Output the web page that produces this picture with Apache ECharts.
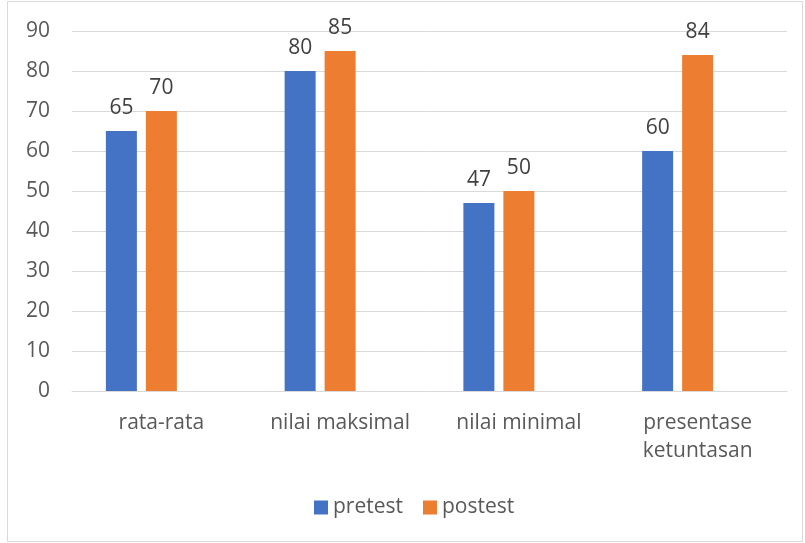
<!DOCTYPE html>
<html>
<head>
<meta charset="utf-8">
<script src="https://cdn.jsdelivr.net/npm/echarts@6/dist/echarts.min.js"></script>
<style>
  html, body { margin: 0; padding: 0; background: #fff; }
  #chart { width: 805px; height: 543px; }
</style>
</head>
<body>
<div id="chart"></div>
<script>
var categories = ["rata-rata", "nilai maksimal", "nilai minimal", "presentase\nketuntasan"];
var pretest = [65, 80, 47, 60];
var postest = [70, 85, 50, 84];
var yTicks = { min: 0, max: 90, interval: 10 };

var fontFamily = "'Open Sans', 'Noto Sans', sans-serif";

var chart = echarts.init(document.getElementById("chart"));
chart.setOption({
  animation: false,
  backgroundColor: "#fff",
  graphic: [
    {
      type: "rect",
      shape: { x: 7.5, y: 1.5, width: 795, height: 540 },
      style: { fill: "none", stroke: "#d9d9d9", lineWidth: 1 },
      silent: true
    }
  ],
  grid: { left: 72, right: 18, top: 31, bottom: 152 },
  legend: {
    data: ["pretest", "postest"],
    top: 492,
    left: 309,
    icon: "rect",
    itemWidth: 14,
    itemHeight: 14,
    itemGap: 20,
    textStyle: { fontFamily: fontFamily, fontSize: 21, color: "#595959" }
  },
  xAxis: {
    type: "category",
    data: categories,
    axisLine: { lineStyle: { color: "#d9d9d9", width: 1 } },
    axisTick: { show: false },
    axisLabel: {
      interval: 0,
      fontFamily: fontFamily,
      fontSize: 21,
      color: "#595959",
      margin: 18,
      lineHeight: 28
    }
  },
  yAxis: {
    type: "value",
    min: yTicks.min,
    max: yTicks.max,
    interval: yTicks.interval,
    axisLine: { show: false },
    axisTick: { show: false },
    splitLine: { lineStyle: { color: "#d9d9d9", width: 1 } },
    axisLabel: {
      fontFamily: fontFamily,
      fontSize: 21,
      color: "#595959",
      margin: 22
    }
  },
  series: [
    {
      name: "pretest",
      type: "bar",
      data: pretest,
      barWidth: 31,
      barGap: "29%",
      itemStyle: { color: "#4472C4" },
      label: {
        show: true,
        position: "top",
        distance: 12,
        fontFamily: fontFamily,
        fontSize: 21,
        color: "#404040"
      }
    },
    {
      name: "postest",
      type: "bar",
      data: postest,
      barWidth: 31,
      barGap: "29%",
      itemStyle: { color: "#ED7D31" },
      label: {
        show: true,
        position: "top",
        distance: 12,
        fontFamily: fontFamily,
        fontSize: 21,
        color: "#404040"
      }
    },
    {
      // empty third slot, keeps the pair off-centre like the original
      name: "",
      type: "bar",
      data: [null, null, null, null],
      barWidth: 31,
      barGap: "29%"
    }
  ]
});
</script>
</body>
</html>
